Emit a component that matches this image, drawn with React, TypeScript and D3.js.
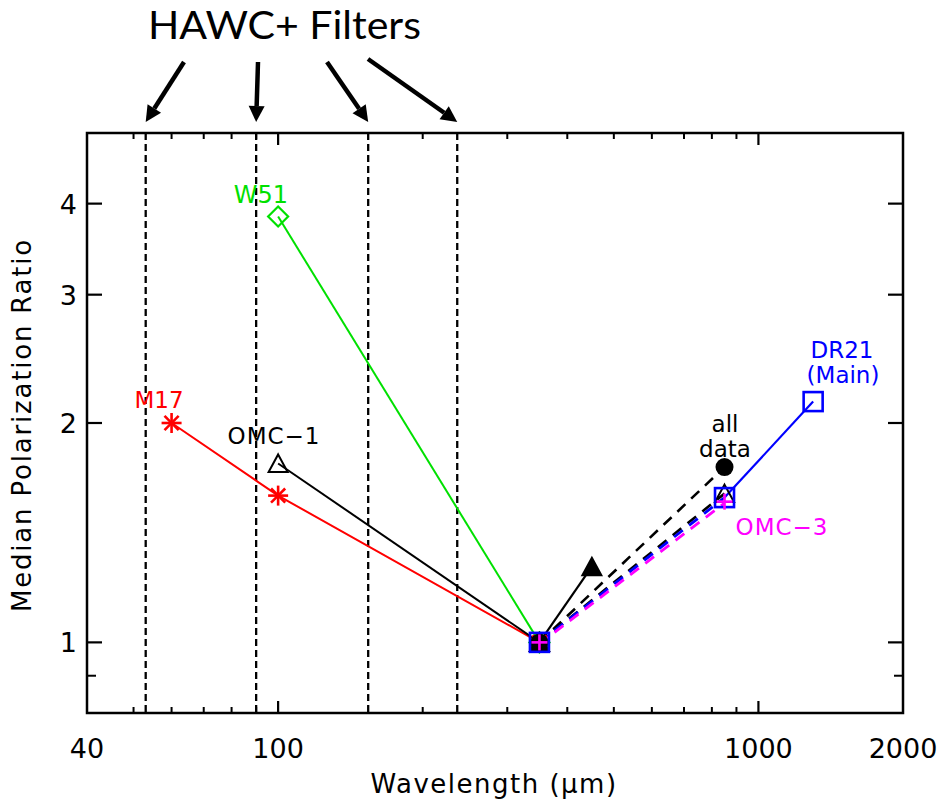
import React from "react";
import * as d3 from "d3";

// ---------- data ----------
const filterWaves = [53, 90, 154, 236];

const m17Wave = [60, 100, 350];
const m17Ratio = [2.0, 1.59, 1.0];

const w51Wave = [100, 350];
const w51Ratio = [3.84, 1.0];

const omc1Wave = [100, 350];
const omc1Ratio = [1.76, 1.0];

const omc1ShortWave = [350, 450];
const omc1ShortRatio = [1.0, 1.27];

const omc1LongWave = [350, 850];
const omc1LongRatio = [1.0, 1.6];

const allDataWave = [350, 850];
const allDataRatio = [1.0, 1.74];

const dr21DashWave = [350, 850];
const dr21DashRatio = [1.0, 1.58];
const dr21SolidWave = [850, 1300];
const dr21SolidRatio = [1.58, 2.14];

const omc3Wave = [350, 850];
const omc3Ratio = [1.0, 1.56];

const xTickLabels = [40, 100, 1000, 2000];
const xMajorTicks = [100, 1000];
const xMinorTicks = [50, 60, 70, 80, 90, 200, 300, 400, 500, 600, 700, 800, 900];
const yTickLabels = [1, 2, 3, 4];
const yMinorTicks = [0.9];

// ---------- layout ----------
const W = 943;
const H = 804;
const L = 87, R = 903, T = 133, B = 713;

const x = d3.scaleLog().domain([40, 2000]).range([L, R]);
const y = d3.scaleLog().domain([0.8, 5]).range([B, T]);

const FONT = "'DejaVu Sans', sans-serif";

const line = d3
  .line<[number, number]>()
  .x((d) => x(d[0]))
  .y((d) => y(d[1]));

function pts(w: number[], r: number[]): [number, number][] {
  return w.map((v, i) => [v, r[i]] as [number, number]);
}

function Asterisk({ cx, cy, color }: { cx: number; cy: number; color: string }) {
  const r = 10;
  const angles = [0, 45, 90, 135];
  return (
    <g stroke={color} strokeWidth={2.6}>
      {angles.map((a) => {
        const rad = (a * Math.PI) / 180;
        const dx = Math.cos(rad) * r;
        const dy = Math.sin(rad) * r;
        return <line key={a} x1={cx - dx} y1={cy - dy} x2={cx + dx} y2={cy + dy} />;
      })}
    </g>
  );
}

function Plus({ cx, cy, color }: { cx: number; cy: number; color: string }) {
  const r = 8;
  return (
    <g stroke={color} strokeWidth={2.6}>
      <line x1={cx - r} y1={cy} x2={cx + r} y2={cy} />
      <line x1={cx} y1={cy - r} x2={cx} y2={cy + r} />
    </g>
  );
}

function Tri({ cx, cy, fill }: { cx: number; cy: number; fill: string }) {
  const p = `${cx},${cy - 9} ${cx + 9.5},${cy + 8.5} ${cx - 9.5},${cy + 8.5}`;
  return <polygon points={p} fill={fill} stroke="#000" strokeWidth={2} />;
}

function Diamond({ cx, cy, color }: { cx: number; cy: number; color: string }) {
  const r = 10;
  const p = `${cx},${cy - r} ${cx + r},${cy} ${cx},${cy + r} ${cx - r},${cy}`;
  return <polygon points={p} fill="none" stroke={color} strokeWidth={2.2} />;
}

function Square({ cx, cy, color }: { cx: number; cy: number; color: string }) {
  const r = 9.5;
  return <rect x={cx - r} y={cy - r} width={2 * r} height={2 * r} fill="none" stroke={color} strokeWidth={2.6} />;
}

const arrowStarts: [number, number][] = [
  [184, 62],
  [258, 62],
  [327, 62],
  [368, 59],
];
const arrowEndY = 122;

function Arrow({ x1, y1, x2, y2 }: { x1: number; y1: number; x2: number; y2: number }) {
  const ang = Math.atan2(y2 - y1, x2 - x1);
  const hl = 16, hw = 8;
  const bx = x2 - Math.cos(ang) * hl;
  const by = y2 - Math.sin(ang) * hl;
  const px = -Math.sin(ang) * hw;
  const py = Math.cos(ang) * hw;
  return (
    <g>
      <line x1={x1} y1={y1} x2={bx} y2={by} stroke="#000" strokeWidth={4.5} />
      <polygon points={`${x2},${y2} ${bx + px},${by + py} ${bx - px},${by - py}`} fill="#000" />
    </g>
  );
}

export default function App() {
  const dash = "11,8";
  return (
    <svg
      width={W}
      height={H}
      style={{ position: "absolute", left: 0, top: 0, background: "#fff" }}
      xmlns="http://www.w3.org/2000/svg"
    >
      <rect x={0} y={0} width={W} height={H} fill="#fff" />

      {/* title */}
      <text
        x={148}
        y={39}
        fontFamily="Lato, sans-serif"
        fontSize={38}
        textLength={273}
        lengthAdjust="spacingAndGlyphs"
        fill="#000"
      >
        HAWC+ Filters
      </text>
      {filterWaves.map((f, i) => (
        <Arrow key={f} x1={arrowStarts[i][0]} y1={arrowStarts[i][1]} x2={x(f)} y2={arrowEndY} />
      ))}

      {/* filter lines */}
      {filterWaves.map((f) => (
        <line key={f} x1={x(f)} x2={x(f)} y1={T} y2={B} stroke="#000" strokeWidth={2.3} strokeDasharray="7,4" />
      ))}

      {/* frame */}
      <rect x={L} y={T} width={R - L} height={B - T} fill="none" stroke="#000" strokeWidth={2.5} />

      {/* x ticks */}
      {xMajorTicks.map((t) => (
        <g key={"xm" + t} stroke="#000" strokeWidth={2.2}>
          <line x1={x(t)} x2={x(t)} y1={B} y2={B - 12} />
          <line x1={x(t)} x2={x(t)} y1={T} y2={T + 12} />
        </g>
      ))}
      {xMinorTicks.map((t) => (
        <g key={"xn" + t} stroke="#000" strokeWidth={2}>
          <line x1={x(t)} x2={x(t)} y1={B} y2={B - 6} />
          <line x1={x(t)} x2={x(t)} y1={T} y2={T + 6} />
        </g>
      ))}
      {xTickLabels.map((t) => (
        <text key={"xl" + t} x={x(t)} y={758} textAnchor="middle" fontFamily={FONT} fontSize={27} fill="#000">
          {t}
        </text>
      ))}

      {/* y ticks */}
      {yTickLabels.map((t) => (
        <g key={"ym" + t} stroke="#000" strokeWidth={2.2}>
          <line x1={L} x2={L + 15} y1={y(t)} y2={y(t)} />
          <line x1={R} x2={R - 15} y1={y(t)} y2={y(t)} />
        </g>
      ))}
      {yMinorTicks.map((t) => (
        <g key={"yn" + t} stroke="#000" strokeWidth={2}>
          <line x1={L} x2={L + 9} y1={y(t)} y2={y(t)} />
          <line x1={R} x2={R - 9} y1={y(t)} y2={y(t)} />
        </g>
      ))}
      {yTickLabels.map((t) => (
        <text key={"yl" + t} x={77} y={y(t) + 10} textAnchor="end" fontFamily={FONT} fontSize={27} fill="#000">
          {t}
        </text>
      ))}

      {/* axis titles */}
      <text x={494} y={793} textAnchor="middle" fontFamily={FONT} fontSize={26} letterSpacing={1.5} fill="#000">
        Wavelength (μm)
      </text>
      <text
        transform={`translate(31, 425) rotate(-90)`}
        textAnchor="middle"
        fontFamily={FONT}
        fontSize={26}
        letterSpacing={1.8}
        fill="#000"
      >
        Median Polarization Ratio
      </text>

      {/* lines */}
      <path d={line(pts(w51Wave, w51Ratio)) || ""} fill="none" stroke="#00e000" strokeWidth={2} />
      <path d={line(pts(m17Wave, m17Ratio)) || ""} fill="none" stroke="#ff0000" strokeWidth={2} />
      <path d={line(pts(omc1Wave, omc1Ratio)) || ""} fill="none" stroke="#000" strokeWidth={2} />
      <path d={line(pts(omc1ShortWave, omc1ShortRatio)) || ""} fill="none" stroke="#000" strokeWidth={2.2} />
      <path d={line(pts(allDataWave, allDataRatio)) || ""} fill="none" stroke="#000" strokeWidth={2.6} strokeDasharray={dash} />
      <path d={line(pts(omc1LongWave, omc1LongRatio)) || ""} fill="none" stroke="#000" strokeWidth={2.6} strokeDasharray={dash} />
      <path d={line(pts(dr21DashWave, dr21DashRatio)) || ""} fill="none" stroke="#0000ff" strokeWidth={2.8} strokeDasharray={dash} />
      <path
        d={line(pts(omc3Wave, omc3Ratio)) || ""}
        fill="none"
        stroke="#ff00ff"
        strokeWidth={2.8}
        strokeDasharray={dash}
        transform="translate(0,1.5)"
      />
      <path d={line(pts(dr21SolidWave, dr21SolidRatio)) || ""} fill="none" stroke="#0000ff" strokeWidth={2.2} />

      {/* markers */}
      {w51Wave.map((w, i) => (
        <Diamond key={"w" + i} cx={x(w)} cy={y(w51Ratio[i])} color="#00e000" />
      ))}
      {m17Wave.map((w, i) => (
        <Asterisk key={"m" + i} cx={x(w)} cy={y(m17Ratio[i])} color="#ff0000" />
      ))}
      {omc1Wave.map((w, i) => (
        <Tri key={"o" + i} cx={x(w)} cy={y(omc1Ratio[i])} fill="none" />
      ))}
      <Tri cx={x(omc1LongWave[1])} cy={y(omc1LongRatio[1])} fill="none" />
      {allDataWave.map((w, i) => (
        <circle key={"a" + i} cx={x(w)} cy={y(allDataRatio[i])} r={9} fill="#000" />
      ))}
      {omc1ShortWave.map((w, i) => (
        <Tri key={"s" + i} cx={x(w)} cy={y(omc1ShortRatio[i])} fill="#000" />
      ))}
      {dr21DashWave.map((w, i) => (
        <Square key={"d" + i} cx={x(w)} cy={y(dr21DashRatio[i])} color="#0000ff" />
      ))}
      <Square cx={x(dr21SolidWave[1])} cy={y(dr21SolidRatio[1])} color="#0000ff" />
      {omc3Wave.map((w, i) => (
        <Plus key={"p" + i} cx={x(w)} cy={y(omc3Ratio[i])} color="#ff00ff" />
      ))}

      {/* labels */}
      <text x={261} y={203} textAnchor="middle" fontFamily={FONT} fontSize={24} fill="#00e000">W51</text>
      <text x={159} y={408} textAnchor="middle" fontFamily={FONT} fontSize={23} fill="#ff0000">M17</text>
      <text x={274} y={444} textAnchor="middle" fontFamily={FONT} fontSize={23} letterSpacing={1} fill="#000">OMC−1</text>
      <text x={725} y={432} textAnchor="middle" fontFamily={FONT} fontSize={23} fill="#000">all</text>
      <text x={725} y={457} textAnchor="middle" fontFamily={FONT} fontSize={23} fill="#000">data</text>
      <text x={842} y={358} textAnchor="middle" fontFamily={FONT} fontSize={23} fill="#0000ff">DR21</text>
      <text x={843} y={383} textAnchor="middle" fontFamily={FONT} fontSize={23} fill="#0000ff">(Main)</text>
      <text x={782} y={535} textAnchor="middle" fontFamily={FONT} fontSize={23} letterSpacing={1} fill="#ff00ff">OMC−3</text>
    </svg>
  );
}
